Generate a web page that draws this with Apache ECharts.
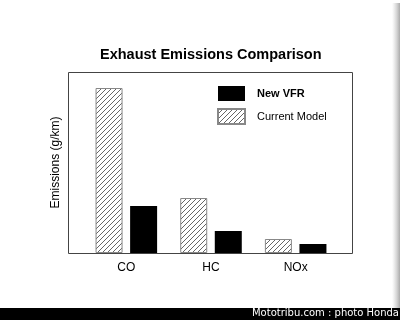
<!DOCTYPE html>
<html>
<head>
<meta charset="utf-8">
<script src="https://cdn.jsdelivr.net/npm/echarts@6/dist/echarts.min.js"></script>
<style>
  html, body { margin: 0; padding: 0; background: #fff; }
  #main { width: 400px; height: 320px; }
</style>
</head>
<body>
<div id="main"></div>
<script>
// data (no scale printed, units are relative)
var categories = ['CO', 'HC', 'NOx'];
var currentModel = [16.5, 5.5, 1.4];
var newVFR = [4.7, 2.2, 0.9];
var seriesNames = ['New VFR', 'Current Model'];

// hatch pattern for the "current model" bars
function hatch() {
  var c = document.createElement('canvas');
  c.width = 5; c.height = 5;
  var ctx = c.getContext('2d');
  ctx.fillStyle = '#fff';
  ctx.fillRect(0, 0, 5, 5);
  ctx.strokeStyle = '#555';
  ctx.lineWidth = 0.9;
  ctx.beginPath();
  ctx.moveTo(-1, 6); ctx.lineTo(6, -1);
  ctx.moveTo(-1, 1); ctx.lineTo(1, -1);
  ctx.moveTo(4, 6); ctx.lineTo(6, 4);
  ctx.stroke();
  return c;
}
var pattern = { image: hatch(), repeat: 'repeat' };

var chart = echarts.init(document.getElementById('main'));
chart.setOption({
  animation: false,
  title: {
    text: 'Exhaust Emissions Comparison',
    left: 95,
    top: 42,
    textStyle: { fontFamily: 'Liberation Sans', fontSize: 14.5, fontWeight: 'bold', color: '#000' }
  },
  legend: {
    orient: 'vertical',
    left: 212, top: 81,
    itemWidth: 27, itemHeight: 15, itemGap: 7,
    icon: 'rect',
    textStyle: { fontFamily: 'Liberation Sans', fontSize: 11, color: '#000', padding: [0, 0, 0, 7] },
    data: [
      { name: seriesNames[0], textStyle: { fontWeight: 'bold' } },
      { name: seriesNames[1] }
    ]
  },
  grid: { left: 84, right: 62, top: 72, bottom: 67 },
  xAxis: {
    type: 'category',
    data: categories,
    axisLine: { show: false },
    axisTick: { show: false },
    axisLabel: { color: '#000', fontFamily: 'Liberation Sans', fontSize: 12, margin: 9 }
  },
  yAxis: {
    type: 'value',
    min: 0, max: 18.1,
    name: 'Emissions (g/km)',
    nameLocation: 'middle',
    nameGap: 22,
    nameTextStyle: { fontFamily: 'Liberation Sans', fontSize: 12, color: '#000' },
    axisLine: { show: false },
    axisTick: { show: false },
    axisLabel: { show: false },
    splitLine: { show: false }
  },
  series: [
    {
      name: seriesNames[1], type: 'bar', data: currentModel,
      barWidth: 27, barGap: '28%',
      itemStyle: { color: pattern, borderColor: '#888', borderWidth: 1 }
    },
    {
      name: seriesNames[0], type: 'bar', data: newVFR,
      barWidth: 27,
      itemStyle: { color: '#000' }
    }
  ],
  graphic: [
    { type: 'rect', shape: { x: 68.5, y: 72.5, width: 284, height: 181 }, style: { fill: 'none', stroke: '#444', lineWidth: 1 }, silent: true },
    { type: 'rect', shape: { x: 0, y: 308, width: 400, height: 12 }, style: { fill: '#000' }, silent: true },
    { type: 'text', right: 1, top: 308, style: { text: 'Mototribu.com : photo Honda', fill: '#fff', font: '10px "DejaVu Sans"' }, silent: true },
    { type: 'rect', shape: { x: 392, y: 3, width: 8, height: 305 }, silent: true,
      style: { fill: new echarts.graphic.LinearGradient(0, 0, 1, 0, [{ offset: 0, color: 'rgba(200,200,200,0)' }, { offset: 1, color: '#aaa' }]) } }
  ]
});
</script>
</body>
</html>
